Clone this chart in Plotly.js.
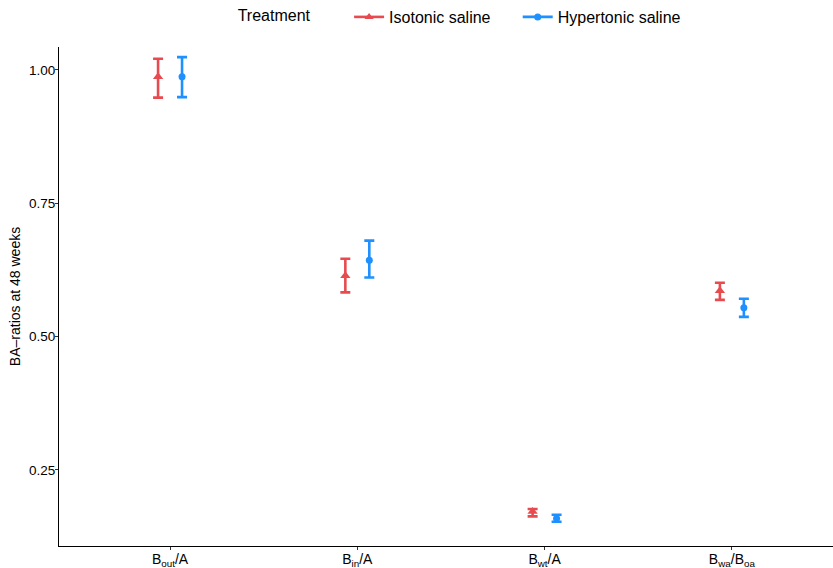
<!DOCTYPE html>
<html>
<head>
<meta charset="utf-8">
<script src="https://cdn.plot.ly/plotly-3.0.1.min.js"></script>
<style>html,body{margin:0;padding:0;background:#fff;}#chart{width:833px;height:568px;}</style>
</head>
<body>
<div id="chart"></div>
<script>
var categories = ["B<sub>out</sub>/A", "B<sub>in</sub>/A", "B<sub>wt</sub>/A", "B<sub>wa</sub>/B<sub>oa</sub>"];
var isoMean  = [0.987, 0.614, 0.172, 0.586];
var isoUpper = [1.021, 0.646, 0.177, 0.601];
var isoLower = [0.948, 0.583, 0.163, 0.569];
var hypMean  = [0.987, 0.643, 0.159, 0.554];
var hypUpper = [1.024, 0.680, 0.166, 0.571];
var hypLower = [0.949, 0.611, 0.153, 0.537];
var yTicks = [0.25, 0.50, 0.75, 1.00];
var yTickText = ["0.25", "0.50", "0.75", "1.00"];

var redC = "#E84B4F", blueC = "#1E90FF";
var dodge = 0.064;
var idx = categories.map(function(_, i){ return i; });
function shift(d){ return idx.map(function(i){ return i + d; }); }
function diff(a, b){ return a.map(function(v, i){ return v - b[i]; }); }

var traces = [
  {x: shift(-dodge), y: isoMean, type: "scatter", mode: "markers", showlegend: false,
   marker: {symbol: "triangle-up", size: 9, color: redC},
   error_y: {type: "data", symmetric: false, array: diff(isoUpper, isoMean), arrayminus: diff(isoMean, isoLower),
             color: redC, thickness: 2.6, width: 5}},
  {x: shift(dodge), y: hypMean, type: "scatter", mode: "markers", showlegend: false,
   marker: {symbol: "circle", size: 7, color: blueC},
   error_y: {type: "data", symmetric: false, array: diff(hypUpper, hypMean), arrayminus: diff(hypMean, hypLower),
             color: blueC, thickness: 2.6, width: 5}},
  {x: [null], y: [null], type: "scatter", mode: "lines+markers", name: "Isotonic saline     ",
   marker: {symbol: "triangle-up", size: 8, color: redC}, line: {color: redC, width: 2.6}},
  {x: [null], y: [null], type: "scatter", mode: "lines+markers", name: "Hypertonic saline",
   marker: {symbol: "circle", size: 7, color: blueC}, line: {color: blueC, width: 2.6}}
];

var layout = {
  width: 833, height: 568,
  margin: {l: 59, r: 0, t: 47, b: 22},
  paper_bgcolor: "#fff", plot_bgcolor: "#fff",
  font: {family: "Liberation Sans, Arial, sans-serif", color: "#000", size: 13},
  showlegend: true,
  legend: {orientation: "h", x: 0.553, xanchor: "center", xref: "container",
           y: 1.0, yanchor: "top", yref: "container",
           font: {size: 16},
           title: {text: "Treatment       ", side: "left", font: {size: 16}},
           traceorder: "normal"},
  xaxis: {range: [-0.593, 3.54], tickmode: "array", tickvals: idx, ticktext: categories,
          showgrid: false, zeroline: false, showline: true, linecolor: "#000", linewidth: 1,
          ticks: "outside", ticklen: 3, tickcolor: "#333", tickfont: {size: 14, color: "#000"},
          ticklabelstandoff: -3},
  yaxis: {range: [0.1075, 1.043], tickmode: "array", tickvals: yTicks, ticktext: yTickText,
          showgrid: false, zeroline: false, showline: true, linecolor: "#000", linewidth: 1,
          ticks: "outside", ticklen: 3, tickcolor: "#333", tickfont: {size: 13.5, color: "#000"},
          ticklabelstandoff: -3,
          title: {text: "BA\u2013ratios at 48 weeks", font: {size: 14}, standoff: 5}}
};
Plotly.newPlot("chart", traces, layout, {displayModeBar: false, staticPlot: true});
</script>
</body>
</html>
